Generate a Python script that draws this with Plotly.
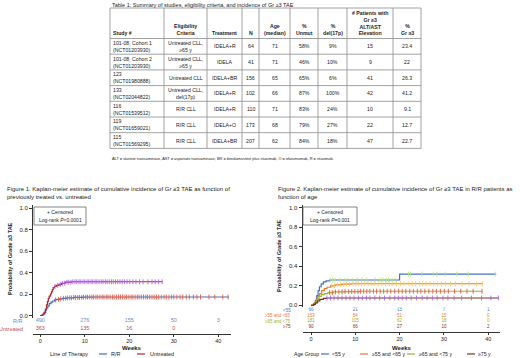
import numpy as np
import plotly.graph_objects as go

W, H = 520, 358
FONT = "Liberation Sans, Arial, sans-serif"
TXT = "#222222"

# ------------------------------------------------------------------ data
table_title = "Table 1: Summary of studies, eligibility criteria, and incidence of Gr ≥3 TAE"
headers = ["Study #", "Eligibility<br>Criteria", "Treatment", "N", "Age<br>(median)",
           "%<br>Unmut", "%<br>del(17p)", "# Patients with<br>Gr ≥3<br>ALT/AST<br>Elevation",
           "%<br>Gr ≥3"]
study = ["101-08, Cohort 1<br>(NCT01203930)", "101-08, Cohort 2<br>(NCT01203930)",
         "123<br>(NCT01980888)", "133<br>(NCT02044822)", "116<br>(NCT01539512)",
         "119<br>(NCT01659021)", "115<br>(NCT01569295)"]
eligibility = ["Untreated CLL,<br>≥65 y", "Untreated CLL,<br>≥65 y", "Untreated CLL",
               "Untreated CLL,<br>del(17p)", "R/R CLL", "R/R CLL", "R/R CLL"]
treatment = ["IDELA+R", "IDELA", "IDELA+BR", "IDELA+R", "IDELA+R", "IDELA+O", "IDELA+BR"]
n_pts = [64, 41, 156, 102, 110, 173, 207]
age_median = [71, 71, 65, 66, 71, 68, 62]
pct_unmut = ["58%", "46%", "65%", "87%", "83%", "79%", "84%"]
pct_del17p = ["9%", "10%", "6%", "100%", "24%", "27%", "18%"]
n_altast = [15, 9, 41, 42, 10, 22, 47]
pct_gr3 = ["23.4", "22", "26.3", "41.2", "9.1", "12.7", "22.7"]
footnote = ("ALT = alanine transaminase, AST = aspartate transaminase, BR = bendamustine plus "
            "rituximab, O = ofatumumab, R = rituximab.")

fig1_title = ("Figure 1. Kaplan-meier estimate of cumulative incidence of Gr ≥3 TAE as function of"
              "<br>previously treated vs. untreated")
fig2_title = ("Figure 2. Kaplan-meier estimate of cumulative incidence of Gr ≥3 TAE in R/R patients as"
              "<br>function of age")

# Figure 1 curves (step points: weeks, probability)
rr_t = [0, 0.5, 0.8, 1.1, 1.4, 1.7, 2.0, 2.4, 2.8, 3.2, 3.7, 4.3, 5.0, 6.0, 7.5, 9.5, 12.0, 42.4]
rr_p = [0, 0.01, 0.03, 0.05, 0.07, 0.09, 0.11, 0.125, 0.135, 0.145, 0.15, 0.155, 0.16, 0.164, 0.168, 0.171, 0.172, 0.172]
un_t = [0, 0.4, 0.7, 1.0, 1.2, 1.4, 1.6, 1.8, 2.0, 2.3, 2.5, 2.7, 2.9, 3.2, 3.6, 4.2, 4.8, 5.6, 7.0, 27.5]
un_p = [0, 0.005, 0.015, 0.03, 0.06, 0.1, 0.13, 0.16, 0.18, 0.2, 0.22, 0.24, 0.26, 0.27, 0.28, 0.29, 0.30, 0.31, 0.314, 0.314]
rr_cens = [3.4, 4.1, 4.6, 5.2, 5.7, 6.1, 6.6, 7.0, 7.5, 7.9, 8.4, 8.8, 9.3, 9.7, 10.2, 10.6, 11.1, 11.6,
           12.0, 12.5, 12.9, 13.4, 13.9, 14.3, 14.8, 15.2, 15.7, 16.2, 16.6, 17.1, 17.6, 18.0, 18.5, 19.0,
           19.4, 19.9, 20.4, 20.8, 21.3, 21.8, 22.2, 22.7, 23.2, 23.7, 24.1, 24.6, 25.1, 25.6, 26.1, 26.6,
           27.2, 27.8, 28.3, 28.9, 29.5, 30.0, 30.7, 31.4, 32.0, 32.8, 33.5, 34.4, 35.2, 36.0, 37.9, 39.2,
           41.0, 42.2]
un_cens = [3.3, 3.9, 4.5, 5.0, 5.5, 6.0, 6.4, 6.9, 7.3, 7.8, 8.2, 8.7, 9.1, 9.6, 10.0, 10.5, 10.9, 11.4,
           11.8, 12.3, 12.7, 13.2, 13.7, 14.1, 14.6, 15.0, 15.5, 16.0, 16.4, 16.9, 17.4, 17.9, 18.4, 18.9,
           19.5, 20.1, 20.8, 21.5, 22.3, 23.1, 24.2, 25.1, 25.8, 26.6, 27.4]
risk_weeks1 = [0, 10, 20, 30, 40]
risk_rr = ["490", "276", "155", "50", "3"]
risk_un = ["363", "135", "16", "0", ""]
groups1 = ["R/R", "Untreated"]

# Figure 2 curves
a1_t = [0, 0.6, 1.0, 1.3, 1.6, 1.9, 2.3, 2.8, 3.4, 4.2, 20.0, 41.8]
a1_p = [0, 0.015, 0.05, 0.10, 0.15, 0.19, 0.22, 0.24, 0.25, 0.259, 0.32, 0.32]
a2_t = [0, 0.5, 0.9, 1.2, 1.5, 1.9, 2.4, 3.0, 3.6, 4.4, 5.4, 6.8, 9.0, 38.8]
a2_p = [0, 0.01, 0.03, 0.06, 0.09, 0.12, 0.15, 0.17, 0.185, 0.20, 0.21, 0.217, 0.221, 0.221]
a3_t = [0, 0.5, 0.9, 1.3, 1.8, 2.3, 3.0, 3.8, 5.0, 7.5, 11.0, 38.7]
a3_p = [0, 0.01, 0.03, 0.06, 0.09, 0.11, 0.12, 0.13, 0.137, 0.141, 0.144, 0.144]
a4_t = [0, 0.6, 1.0, 1.5, 2.0, 2.8, 3.5, 42.4]
a4_p = [0, 0.01, 0.025, 0.045, 0.06, 0.07, 0.075, 0.075]
a1_cens = [4.3, 4.9, 5.4, 6.6, 7.7, 8.3, 9.3, 10.4, 11.5, 12.6, 14.5, 15.6, 16.2, 17.0, 17.5, 18.3, 19.0,
           22.0, 22.5, 25.0, 27.6, 28.4, 30.3, 32.9, 35.5, 41.6]
a2_cens = [4.6, 5.3, 6.0, 6.7, 7.4, 8.0, 8.7, 9.5, 10.1, 10.7, 11.4, 12.1, 12.9, 13.6, 14.3, 15.2, 16.0,
           16.8, 17.7, 18.5, 19.3, 20.2, 21.0, 22.1, 22.9, 23.6, 24.5, 25.2, 26.0, 26.9, 27.7, 28.6, 29.4,
           30.3, 31.5, 32.6, 34.1, 35.7, 37.4, 38.7]
a3_cens = [4.2, 4.8, 5.5, 6.3, 7.0, 7.7, 8.5, 9.2, 9.9, 10.6, 11.2, 11.9, 12.6, 13.3, 14.1, 14.8, 15.6,
           16.4, 17.2, 18.0, 18.9, 19.8, 20.6, 21.4, 22.3, 23.1, 24.0, 24.8, 25.7, 26.6, 27.5, 28.3, 29.2,
           30.1, 31.0, 32.4, 33.8, 35.2, 36.6, 38.6]
a4_cens = [3.6, 4.4, 5.2, 6.1, 7.0, 7.9, 8.8, 9.7, 10.7, 11.6, 12.5, 13.3, 14.4, 15.5, 16.6, 17.8, 18.9,
           19.7, 20.6, 21.5, 22.6, 23.8, 25.1, 26.2, 27.4, 28.5, 29.8, 30.9, 32.3, 34.0, 36.2, 38.5, 40.6,
           42.3]
risk_weeks2 = [0, 10, 20, 30, 40]
risk_a1 = ["66", "21", "15", "7", "1"]
risk_a2 = ["153", "84", "51", "15", "0"]
risk_a3 = ["181", "105", "62", "18", "0"]
risk_a4 = ["90", "66", "27", "10", "2"]
groups2_risk = ["&lt;55", "≥55 and &lt;65", "≥65 and &lt;75", "≥75"]
groups2_leg = ["&lt;55 y", "≥55 and &lt;65 y", "≥65 and &lt;75 y", "≥75 y"]

# ------------------------------------------------------------------ styles
C_RR, C_UN = "#4470b8", "#b5252b"
C_RR_T, C_UN_T = "#6a8cc8", "#c0504d"
C_AGE = ["#4472c4", "#e8793a", "#9bb03a", "#7a3418"]


def fx(px):
    return px / W


def fy(py):
    return 1 - py / H


fig = go.Figure()
shapes, annos = [], []


def ann(x, y, text, size, xanchor="left", yanchor="middle", color=TXT, align="left", **kw):
    annos.append(dict(x=x, y=y, xref=kw.pop("xref", "paper"), yref=kw.pop("yref", "paper"),
                      text=text, showarrow=False, xanchor=xanchor, yanchor=yanchor, align=align,
                      font=dict(size=size, color=color, family=FONT), borderpad=0, **kw))


# ------------------------------------------------------------------ table
col_edges = [110, 164, 207, 242, 259, 290, 318, 347, 393, 421]
row_edges = [8, 38.5] + [38.5 + 15.7 * (i + 1) for i in range(7)]
ann(fx(111), fy(4.5), table_title, 5.5)
for xe in col_edges:
    shapes.append(dict(type="line", xref="paper", yref="paper", x0=fx(xe), x1=fx(xe),
                       y0=fy(row_edges[0]), y1=fy(row_edges[-1]), line=dict(color="#8a8a8a", width=0.8)))
for ye in row_edges:
    shapes.append(dict(type="line", xref="paper", yref="paper", x0=fx(col_edges[0]), x1=fx(col_edges[-1]),
                       y0=fy(ye), y1=fy(ye), line=dict(color="#8a8a8a", width=0.8)))
for j, h in enumerate(headers):
    if j == 0:
        ann(fx(col_edges[0] + 2), fy(row_edges[1] - 2), f"<b>{h}</b>", 5.2, yanchor="bottom")
    else:
        cx = (col_edges[j] + col_edges[j + 1]) / 2
        ann(fx(cx), fy(row_edges[1] - 2), f"<b>{h}</b>", 5.2, xanchor="center", yanchor="bottom",
            align="center")
columns = [study, eligibility, treatment, n_pts, age_median, pct_unmut, pct_del17p, n_altast, pct_gr3]
for i in range(len(study)):
    cy = (row_edges[i + 1] + row_edges[i + 2]) / 2
    for j, col in enumerate(columns):
        if j == 0:
            ann(fx(col_edges[0] + 2), fy(cy), str(col[i]), 5.2)
        else:
            cx = (col_edges[j] + col_edges[j + 1]) / 2
            ann(fx(cx), fy(cy), str(col[i]), 5.2, xanchor="center", align="center")
ann(fx(111), fy(158.3), footnote, 3.9)

# ------------------------------------------------------------------ KM helpers
def at(ts, ps, tq):
    idx = np.searchsorted(np.array(ts), np.array(tq), side="right") - 1
    return [ps[k] for k in idx]


def km(ts, ps, cens, color, xa, ya):
    fig.add_trace(go.Scatter(x=ts, y=ps, mode="lines", line=dict(color=color, width=1.2, shape="hv"),
                             xaxis=xa, yaxis=ya, showlegend=False, hoverinfo="skip"))
    fig.add_trace(go.Scatter(x=cens, y=at(ts, ps, cens), mode="markers", xaxis=xa, yaxis=ya,
                             marker=dict(symbol="line-ns-open", size=3.5, line=dict(color=color, width=0.9)),
                             showlegend=False, hoverinfo="skip"))


def risk(weeks, vals, row, color, xa, ya, size):
    fig.add_trace(go.Scatter(x=weeks, y=[row] * len(weeks), text=vals, mode="text", xaxis=xa, yaxis=ya,
                             textfont=dict(size=size, color=color, family=FONT), textposition="middle center",
                             showlegend=False, hoverinfo="skip"))


# ------------------------------------------------------------------ figure 1
ann(fx(6), fy(185), fig1_title, 6, yanchor="top")
km(rr_t, rr_p, rr_cens, C_RR, "x", "y")
km(un_t, un_p, un_cens, C_UN, "x", "y")
risk(risk_weeks1, risk_rr, 1, C_RR_T, "x", "y2", 5.5)
risk(risk_weeks1, risk_un, 0, C_UN_T, "x", "y2", 5.5)
ann(fx(24), 1, groups1[0], 5.5, xanchor="right", color=C_RR_T, yref="y2")
ann(fx(24), 0, groups1[1], 5.5, xanchor="right", color=C_UN_T, yref="y2")
shapes.append(dict(type="rect", xref="paper", yref="paper", x0=fx(34), x1=fx(86), y0=fy(225), y1=fy(207),
                   line=dict(color="#666", width=0.8)))
ann(fx(60), fy(212), "+ Censored", 5, xanchor="center")
ann(fx(60), fy(219.5), "Log-rank <i>P</i>&lt;0.0001", 5, xanchor="center")
ann(fx(10), fy(259), "<b>Probability of Grade ≥3 TAE</b>", 5.5, xanchor="center", textangle=-90)
ann(fx(132), fy(347.5), "<b>Weeks</b>", 6, xanchor="center")
ann(fx(49), fy(354), "Line of Therapy", 5.5)
leg1 = [(99, 110, C_RR, groups1[0]), (137, 149, C_UN, groups1[1])]
for x0, xt, c, lab in leg1:
    shapes.append(dict(type="line", xref="paper", yref="paper", x0=fx(x0), x1=fx(x0 + 8), y0=fy(354),
                       y1=fy(354), line=dict(color=c, width=1.2)))
    ann(fx(xt), fy(354), lab, 5.5)

# ------------------------------------------------------------------ figure 2
ann(fx(277), fy(185), fig2_title, 6, yanchor="top")
for ts, ps, cs, c in [(a1_t, a1_p, a1_cens, C_AGE[0]), (a2_t, a2_p, a2_cens, C_AGE[1]),
                      (a3_t, a3_p, a3_cens, C_AGE[2]), (a4_t, a4_p, a4_cens, C_AGE[3])]:
    km(ts, ps, cs, c, "x3", "y3")
for row, vals, c, lab in [(3, risk_a1, C_AGE[0], groups2_risk[0]), (2, risk_a2, C_AGE[1], groups2_risk[1]),
                          (1, risk_a3, C_AGE[2], groups2_risk[2]), (0, risk_a4, C_AGE[3], groups2_risk[3])]:
    risk(risk_weeks2, vals, row, c, "x3", "y4", 4.5)
    ann(fx(292), row, lab, 4.5, xanchor="right", color=c, yref="y4")
shapes.append(dict(type="rect", xref="paper", yref="paper", x0=fx(303), x1=fx(357), y0=fy(225), y1=fy(207),
                   line=dict(color="#666", width=0.8)))
ann(fx(330), fy(212), "+ Censored", 5, xanchor="center")
ann(fx(330), fy(219.5), "Log-rank <i>P</i>=0.001", 5, xanchor="center")
ann(fx(279), fy(256), "<b>Probability of Grade ≥3 TAE</b>", 5.5, xanchor="center", textangle=-90)
ann(fx(402), fy(347.5), "<b>Weeks</b>", 6, xanchor="center")
ann(fx(293), fy(354), "Age Group", 5.2)
leg2 = [(321, 331), (360, 371), (407, 418), (467, 477)]
for (x0, xt), c, lab in zip(leg2, C_AGE, groups2_leg):
    shapes.append(dict(type="line", xref="paper", yref="paper", x0=fx(x0), x1=fx(x0 + 8), y0=fy(354),
                       y1=fy(354), line=dict(color=c, width=1.2)))
    ann(fx(xt), fy(354), lab, 5.2)

# ------------------------------------------------------------------ axes
def xax(l, r, x0px, ppw, axis_px):
    return dict(domain=[fx(l), fx(r)], range=[(l - x0px) / ppw, (r - x0px) / ppw], anchor="free",
                position=fy(axis_px), tickvals=[0, 10, 20, 30, 40], ticks="outside", ticklen=2,
                tickcolor="#333", showline=True, linecolor="#333", linewidth=1, showgrid=False,
                zeroline=False, tickfont=dict(size=5.5, color=TXT, family=FONT))


def yax(top, bot, y0px, ppu, anchor):
    return dict(domain=[fy(bot), fy(top)], range=[(y0px - bot) / ppu, (y0px - top) / ppu], anchor=anchor,
                tickvals=[0, 0.2, 0.4, 0.6, 0.8, 1.0], tickformat=".1f", ticks="outside", ticklen=3,
                tickcolor="#333", showline=True, linecolor="#333", linewidth=1, showgrid=False,
                zeroline=False, tickfont=dict(size=6, color=TXT, family=FONT))


fig.update_layout(
    width=W, height=H, margin=dict(l=0, r=0, t=0, b=0), paper_bgcolor="white", plot_bgcolor="white",
    showlegend=False, font=dict(family=FONT, color=TXT),
    xaxis=xax(33, 231, 40.3, 4.45, 333.5),
    yaxis=yax(205, 318, 315.5, 107.5, "x"),
    yaxis2=dict(domain=[fy(333), fy(317)], range=[-0.5, 1.5], anchor="x", visible=False),
    xaxis3=xax(302.5, 500, 311, 4.43, 331.5),
    yaxis3=yax(205, 307, 305.3, 97.6, "x3"),
    yaxis4=dict(domain=[fy(329.2), fy(307.6)], range=[-0.5, 3.5], anchor="x3", visible=False),
    shapes=shapes, annotations=annos,
)

fig.write_html("out.html", config={"displayModeBar": False},
               post_script="document.body.style.margin='0';document.body.style.overflow='hidden';")
